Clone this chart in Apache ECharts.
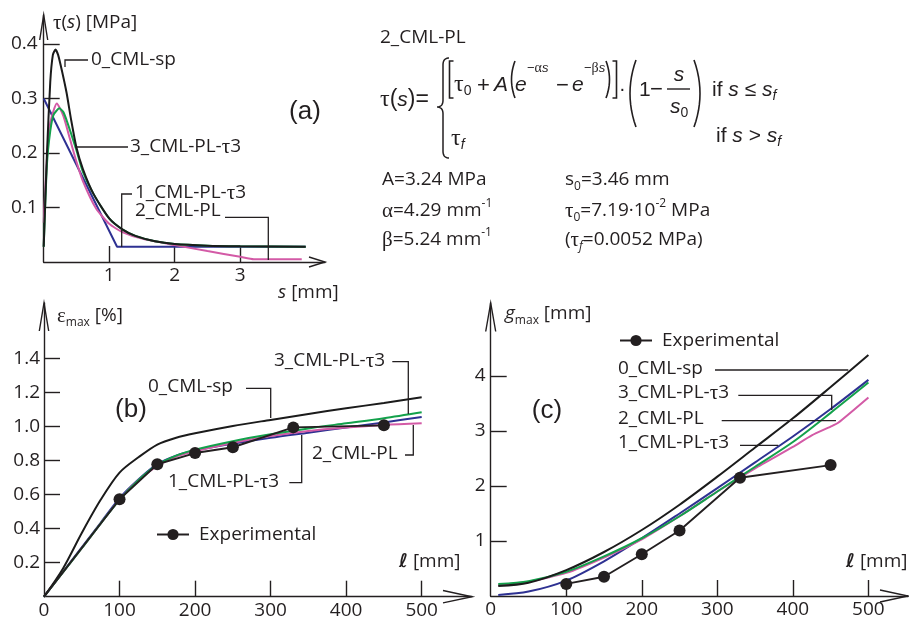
<!DOCTYPE html>
<html>
<head>
<meta charset="utf-8">
<script src="https://cdn.jsdelivr.net/npm/echarts@6.0.0/dist/echarts.min.js"></script>
<style>
html, body { margin: 0; padding: 0; background: #fff; }
#main { width: 909px; height: 618px; }
</style>
</head>
<body>
<div id="main"></div>
<script>
// (a) bond-slip laws, s [mm] -> tau [MPa]
var sCmlSp = [0, 0.05, 0.1, 0.14, 0.18, 0.22, 0.28, 0.35, 0.42, 0.5, 0.6, 0.76, 1.0, 1.2, 1.4, 1.7, 2.0, 2.5, 3.0, 4.0];
var tauCmlSp = [0.028, 0.2, 0.33, 0.38, 0.39, 0.38, 0.35, 0.31, 0.26, 0.21, 0.17, 0.125, 0.08, 0.06, 0.048, 0.038, 0.033, 0.03, 0.029, 0.028];
var sPlTau1 = [0, 1.12, 4.0];
var tauPlTau1 = [0.3, 0.028, 0.028];
var sPl = [0, 0.05, 0.1, 0.2, 0.3, 0.4, 0.5, 0.6, 0.8, 1.0, 1.2, 1.5, 2.0, 2.5, 3.0, 3.21, 3.94];
var tauPl = [0.072, 0.19, 0.255, 0.291, 0.268, 0.226, 0.184, 0.148, 0.098, 0.07, 0.055, 0.043, 0.031, 0.02, 0.0096, 0.0052, 0.0052];
var sPlTau3 = [0, 0.05, 0.1, 0.15, 0.24, 0.3, 0.35, 0.42, 0.5, 0.6, 0.76, 1.0, 1.2, 1.4, 1.7, 2.0, 2.5, 3.0, 4.0];
var tauPlTau3 = [0.028, 0.18, 0.24, 0.27, 0.282, 0.275, 0.26, 0.235, 0.205, 0.165, 0.125, 0.08, 0.06, 0.048, 0.038, 0.033, 0.03, 0.029, 0.028];

// (b) max strain vs bonded length
var lenEps = [0, 25, 50, 75, 100, 125, 150, 175, 200, 250, 300, 350, 400, 450, 500];
var epsCmlSp = [0, 0.165, 0.375, 0.57, 0.73, 0.82, 0.895, 0.935, 0.961, 1.004, 1.04, 1.075, 1.108, 1.14, 1.173];
var epsPlTau1 = [0, 0.145, 0.29, 0.435, 0.58, 0.69, 0.78, 0.83, 0.86, 0.9, 0.935, 0.965, 0.995, 1.025, 1.057];
var epsPl = [0, 0.143, 0.285, 0.43, 0.57, 0.685, 0.77, 0.825, 0.855, 0.905, 0.945, 0.975, 0.995, 1.01, 1.02];
var epsPlTau3 = [0, 0.143, 0.285, 0.43, 0.57, 0.685, 0.775, 0.83, 0.865, 0.915, 0.955, 0.99, 1.02, 1.05, 1.085];
var lenExpEps = [0, 100, 150, 200, 250, 330, 450];
var epsExp = [0, 0.573, 0.779, 0.845, 0.879, 0.996, 1.008];

// (c) max slip vs bonded length
var lenGap = [10, 50, 100, 150, 200, 250, 300, 350, 400, 450, 500];
var gapCmlSp = [0.18, 0.24, 0.47, 0.8, 1.2, 1.66, 2.17, 2.7, 3.23, 3.8, 4.38];
var gapPlTau1 = [0.02, 0.08, 0.28, 0.63, 1.05, 1.5, 1.96, 2.43, 2.9, 3.4, 3.93];
var gapPlTau3 = [0.22, 0.27, 0.44, 0.72, 1.05, 1.45, 1.9, 2.35, 2.8, 3.33, 3.88];
var lenGapPl = [10, 50, 100, 150, 200, 250, 300, 350, 400, 425, 450, 460, 500];
var gapPl = [0.2, 0.26, 0.42, 0.7, 1.03, 1.45, 1.9, 2.32, 2.71, 2.92, 3.08, 3.15, 3.61];
var lenExpGap = [100, 150, 200, 250, 330, 450];
var gapExp = [0.22, 0.35, 0.76, 1.19, 2.15, 2.38];

// ticks
var ticksS = [1, 2, 3];
var ticksTau = [0.1, 0.2, 0.3, 0.4];
var ticksLen = [100, 200, 300, 400, 500];
var labelsLen = [0, 100, 200, 300, 400, 500];
var ticksEps = [0.2, 0.4, 0.6, 0.8, 1.0, 1.2, 1.4];
var ticksGap = [1, 2, 3, 4];

var ink = '#231f20';
var cBlack = '#1b1b1b', cBlue = '#2e3192', cGreen = '#13a14b', cPink = '#d35aa6';
var sans = 'Open Sans';
var fsans = 'Liberation Sans';
var greek = 'Liberation Serif';

function pts(xs, ys) {
	return xs.map(function(x, i) { return [x, ys[i]]; });
}

function curve(name, idx, xs, ys, color, smooth) {
	return {
		name: name, type: 'line', xAxisIndex: idx, yAxisIndex: idx,
		data: pts(xs, ys), symbol: 'none', showSymbol: false,
		smooth: smooth,
		lineStyle: { color: color, width: 2 }, itemStyle: { color: color }
	};
}

function expSeries(idx, xs, ys) {
	return {
		name: 'Experimental', type: 'line', xAxisIndex: idx, yAxisIndex: idx,
		data: pts(xs, ys).map(function(p) {
			return p[0] === 0 ? { value: p, symbol: 'none' } : p;
		}),
		symbol: 'circle', symbolSize: 12, showSymbol: true,
		lineStyle: { color: ink, width: 1.9 }, itemStyle: { color: ink }, z: 5
	};
}

function axis(idx, max, ticks, labels, margin, fmt) {
	return {
		type: 'value', gridIndex: idx, min: 0, max: max,
		axisLine: { show: true, onZero: false, lineStyle: { color: ink, width: 1.4 } },
		axisTick: { show: true, inside: true, length: 16, customValues: ticks, lineStyle: { color: ink, width: 1.4 } },
		axisLabel: { customValues: labels, color: ink, fontSize: 19, fontFamily: sans, margin: margin, formatter: fmt },
		splitLine: { show: false }
	};
}

var rich = {
	g: { fontFamily: greek, fontSize: 21 },
	i: { fontFamily: sans, fontStyle: 'italic', fontSize: 19 },
	sub: { fontFamily: sans, fontSize: 12, lineHeight: 12, verticalAlign: 'bottom' },
	subi: { fontFamily: sans, fontStyle: 'italic', fontSize: 12, lineHeight: 12, verticalAlign: 'bottom' },
	sup: { fontFamily: sans, fontSize: 12, lineHeight: 12, verticalAlign: 'top' },
	ell: { fontFamily: 'DejaVu Sans', fontStyle: 'italic', fontWeight: 'bold', fontSize: 19 },
	fg: { fontFamily: greek, fontSize: 24 },
	fi: { fontFamily: fsans, fontStyle: 'italic', fontSize: 21 },
	fs: { fontFamily: fsans, fontSize: 14, lineHeight: 14, verticalAlign: 'bottom' },
	fsi: { fontFamily: fsans, fontStyle: 'italic', fontSize: 14, lineHeight: 14, verticalAlign: 'bottom' },
	pg: { fontFamily: greek, fontSize: 14 },
	pi: { fontFamily: fsans, fontStyle: 'italic', fontSize: 13 }
};

function txt(x, y, text, size, family, align) {
	return {
		type: 'text', x: x, y: y, silent: true, z: 10,
		style: {
			text: text, fontSize: size || 19, fontFamily: family || sans, fill: ink,
			textAlign: align || 'left', textVerticalAlign: 'middle', lineHeight: 26, rich: rich
		}
	};
}

function poly(points, w) {
	return { type: 'polyline', silent: true, z: 10, shape: { points: points }, style: { stroke: ink, lineWidth: w || 1.3, fill: null } };
}

// quadratic bezier as a point list (for brackets and the brace)
function quad(p0, c, p1) {
	var out = [];
	for (var k = 0; k <= 12; k++) {
		var t = k / 12, u = 1 - t;
		out.push([u * u * p0[0] + 2 * u * t * c[0] + t * t * p1[0], u * u * p0[1] + 2 * u * t * c[1] + t * t * p1[1]]);
	}
	return out;
}

var brace = [].concat(
	quad([449, 58], [443, 58], [443, 65]),
	[[443, 100]],
	quad([443, 100], [443, 107], [437, 107]),
	quad([437, 107], [443, 107], [443, 114]),
	[[443, 151]],
	quad([443, 151], [443, 158], [449, 158])
);

var graphics = [
	// axis arrows
	poly([[39.7, 40], [43.7, 15], [47.7, 40]], 1.4),
	poly([[309, 257], [325, 262], [309, 267]], 1.4),
	poly([[39.3, 331], [44, 303], [48.7, 331]], 1.4),
	poly([[443, 590.5], [472, 596.7], [443, 602.9]], 1.4),
	poly([[485.7, 331.5], [490.7, 303], [495.7, 331.5]], 1.4),
	poly([[880, 590], [908, 596], [880, 602]], 1.4),

	// axis names
	txt(53, 23, '{g|τ}({i|s}) [MPa]'),
	txt(278, 293, '{i|s} [mm]'),
	txt(57, 316, '{g|ε}{sub|max} [%]'),
	txt(399, 562, '{ell|ℓ} [mm]'),
	txt(505, 314, '{i|g}{sub|max} [mm]'),
	txt(846, 562, '{ell|ℓ} [mm]'),

	// panel letters
	txt(305, 112, '(a)', 26, fsans, 'center'),
	txt(131, 410, '(b)', 26, fsans, 'center'),
	txt(547, 411, '(c)', 26, fsans, 'center'),

	// (a) curve labels
	txt(91, 60, '0_CML-sp'),
	poly([[65, 67], [65, 60], [88, 60]]),
	txt(130, 147, '3_CML-PL-{g|τ}3'),
	poly([[75, 147], [128, 147]]),
	txt(135, 193, '1_CML-PL-{g|τ}3'),
	poly([[121.7, 247], [121.7, 194], [132, 194]]),
	txt(135, 211, '2_CML-PL'),
	poly([[225, 217.3], [268.3, 217.3], [268.3, 260]]),

	// (b) curve labels
	txt(148, 387, '0_CML-sp'),
	poly([[246, 388.3], [270.7, 388.3], [270.7, 418]]),
	txt(274, 361, '3_CML-PL-{g|τ}3'),
	poly([[392.3, 361.7], [408.3, 361.7], [408.3, 414]]),
	txt(312, 454, '2_CML-PL'),
	poly([[405, 455], [413.3, 455], [413.3, 425]]),
	txt(168, 482, '1_CML-PL-{g|τ}3'),
	poly([[289.3, 482.7], [301.7, 482.7], [301.7, 435]]),

	// (c) curve labels
	txt(618, 369, '0_CML-sp'),
	poly([[715, 370], [848.3, 370]]),
	txt(618, 393, '3_CML-PL-{g|τ}3'),
	poly([[738.3, 395.3], [831.7, 395.3], [831.7, 410]]),
	txt(618, 419, '2_CML-PL'),
	poly([[721.7, 420.7], [836, 420.7]]),
	txt(618, 443, '1_CML-PL-{g|τ}3'),
	poly([[740, 445.3], [778.3, 445.3]]),

	// formula of 2_CML-PL
	txt(380, 38, '2_CML-PL'),
	txt(380, 100, '{fg|τ}({fi|s})=', 23, fsans),
	poly(brace, 1.5),
	poly([[453.5, 61], [449.5, 61], [449.5, 98], [453.5, 98]], 1.6),
	txt(454, 85, '{fg|τ}{fs|0}', 22, fsans),
	txt(477, 86, '+', 22, fsans),
	txt(494, 85, '{fi|A}', 21, fsans),
	poly(quad([515, 61], [508, 79.5], [515, 98]), 1.6),
	txt(515, 85, '{fi|e}', 21, fsans),
	txt(527, 68, '−{pg|α}{pi|s}', 13, fsans),
	txt(556, 86, '−', 22, fsans),
	txt(572, 85, '{fi|e}', 21, fsans),
	txt(584, 68, '−{pg|β}{pi|s}', 13, fsans),
	poly(quad([606, 61], [613, 79.5], [606, 98]), 1.6),
	poly([[612.5, 61], [616.5, 61], [616.5, 98], [612.5, 98]], 1.6),
	txt(619, 89, '·', 20, fsans),
	poly(quad([636, 60], [624, 93.5], [636, 127]), 1.6),
	txt(639, 90, '1', 21, fsans),
	txt(650, 90, '−', 22, fsans),
	txt(679, 75, '{fi|s}', 21, fsans, 'center'),
	poly([[667, 89], [690, 89]], 1.4),
	txt(670, 107, '{fi|s}{fs|0}', 21, fsans),
	poly(quad([694, 60], [706, 93.5], [694, 127]), 1.6),
	txt(712, 90, 'if {fi|s} ≤ {fi|s}{fsi|f}', 21, fsans),
	txt(451, 139, '{fg|τ}{fsi|f}', 22, fsans),
	txt(716, 136, 'if {fi|s} > {fi|s}{fsi|f}', 21, fsans),

	// parameters
	txt(382, 180, 'A=3.24 MPa'),
	txt(382, 211, '{g|α}=4.29 mm{sup|-1}'),
	txt(382, 240, '{g|β}=5.24 mm{sup|-1}'),
	txt(565, 180, 's{sub|0}=3.46 mm'),
	txt(565, 211, '{g|τ}{sub|0}=7.19·10{sup|-2} MPa'),
	txt(565, 240, '({g|τ}{subi|f}=0.0052 MPa)')
];

var chart = echarts.init(document.getElementById('main'), null, { renderer: 'canvas' });

var option = {
	backgroundColor: '#fff',
	animation: false,
	grid: [
		{ left: 43.7, top: 15, width: 281.3, height: 247, outerBoundsMode: 'none' },
		{ left: 44, top: 303, width: 428, height: 293.7, outerBoundsMode: 'none' },
		{ left: 490.7, top: 303, width: 417.3, height: 293, outerBoundsMode: 'none' }
	],
	xAxis: [
		axis(0, 4.295, ticksS, ticksS, 4),
		axis(1, 566.6, ticksLen, labelsLen, 4),
		axis(2, 552.4, ticksLen, labelsLen, 4)
	],
	yAxis: [
		axis(0, 0.4532, ticksTau, ticksTau, 6, function(v) { return v.toFixed(1); }),
		axis(1, 1.7276, ticksEps, ticksEps, 4, function(v) { return v.toFixed(1); }),
		axis(2, 5.327, ticksGap, ticksGap, 5)
	],
	legend: [
		{ data: ['Experimental'], left: 156, top: 525, padding: 0, itemWidth: 32, itemHeight: 14,
			textStyle: { color: ink, fontSize: 19, fontFamily: sans, padding: [0, 0, 0, 5] }, selectedMode: false },
		{ data: ['Experimental'], left: 619, top: 331, padding: 0, itemWidth: 32, itemHeight: 14,
			textStyle: { color: ink, fontSize: 19, fontFamily: sans, padding: [0, 0, 0, 5] }, selectedMode: false }
	],
	series: [
		curve('1_CML-PL-τ3', 0, sPlTau1, tauPlTau1, cBlue, false),
		curve('2_CML-PL', 0, sPl, tauPl, cPink, 0.2),
		curve('3_CML-PL-τ3', 0, sPlTau3, tauPlTau3, cGreen, 0.2),
		curve('0_CML-sp', 0, sCmlSp, tauCmlSp, cBlack, 0.2),

		curve('1_CML-PL-τ3 ', 1, lenEps, epsPlTau1, cBlue, 0.3),
		curve('2_CML-PL ', 1, lenEps, epsPl, cPink, 0.3),
		curve('3_CML-PL-τ3 ', 1, lenEps, epsPlTau3, cGreen, 0.3),
		curve('0_CML-sp ', 1, lenEps, epsCmlSp, cBlack, 0.3),
		expSeries(1, lenExpEps, epsExp),

		curve('1_CML-PL-τ3  ', 2, lenGap, gapPlTau1, cBlue, 0.3),
		curve('2_CML-PL  ', 2, lenGapPl, gapPl, cPink, 0.2),
		curve('3_CML-PL-τ3  ', 2, lenGap, gapPlTau3, cGreen, 0.3),
		curve('0_CML-sp  ', 2, lenGap, gapCmlSp, cBlack, 0.3),
		expSeries(2, lenExpGap, gapExp)
	],
	graphic: graphics
};

chart.setOption(option);
</script>
</body>
</html>
